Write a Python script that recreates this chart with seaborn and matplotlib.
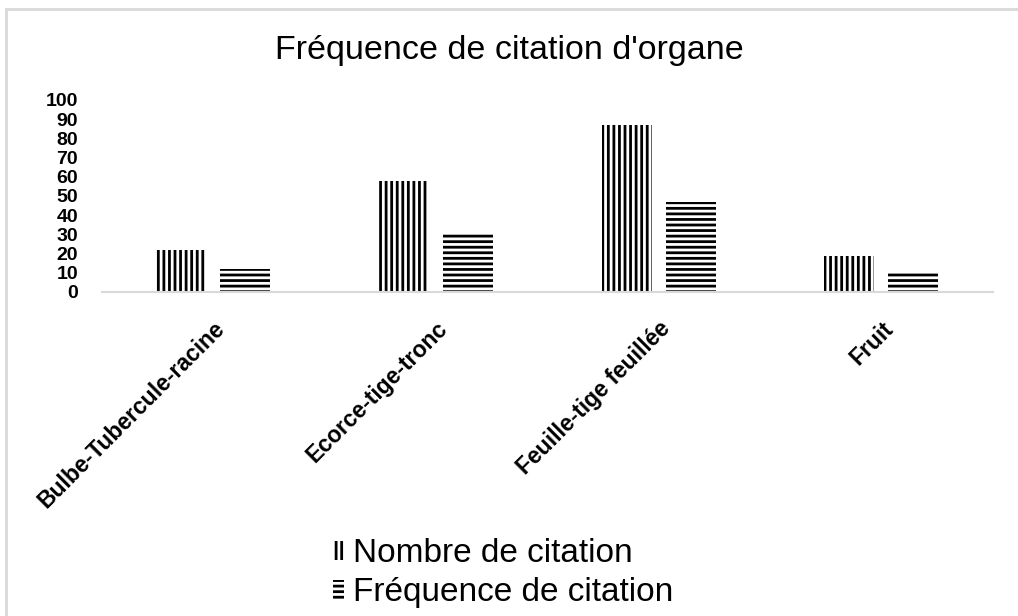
import matplotlib
matplotlib.use("Agg")
import matplotlib.pyplot as plt
import seaborn as sns
import pandas as pd
from matplotlib.patches import Rectangle

organes = ["Bulbe-Tubercule-racine", "Ecorce-tige-tronc", "Feuille-tige feuillée", "Fruit"]
nombre = [22, 58, 87, 19]
frequence = [11.8, 31.2, 46.8, 10.2]
series = ["Nombre de citation", "Fréquence de citation"]
y_ticks = list(range(0, 101, 10))

df = pd.DataFrame({
    "organe": organes * 2,
    "valeur": nombre + frequence,
    "serie": [series[0]] * len(organes) + [series[1]] * len(organes),
})

sns.set_style("white")
plt.rcParams["font.family"] = ["Liberation Sans", "DejaVu Sans"]
plt.rcParams["text.color"] = "black"
plt.rcParams["xtick.color"] = "black"
plt.rcParams["ytick.color"] = "black"
plt.rcParams["hatch.linewidth"] = 2.0

fig = plt.figure(figsize=(10.18, 6.16), dpi=100)
ax = fig.add_axes([0.1, 1 - 292 / 616, (993 - 102) / 1018, (292 - 100) / 616])

sns.barplot(data=df, x="organe", y="valeur", hue="serie", order=organes,
            hue_order=series, palette=["white", "white"], width=0.575, gap=0.22,
            edgecolor="black", linewidth=0, ax=ax, legend=False)

hatches = ["|||", "---"]
for cont, h in zip(ax.containers, hatches):
    for bar in cont:
        bar.set_hatch(h)
        bar.set_edgecolor("black")
        bar.set_linewidth(0)

ax.set_ylim(0, 100)
ax.set_xlim(-0.5, len(organes) - 0.5)
ax.set_yticks(y_ticks)
ax.set_yticklabels([str(t) for t in y_ticks], fontsize=14, fontweight="bold")
ax.tick_params(axis="y", length=0, pad=17)
ax.tick_params(axis="x", length=0, pad=18)
ax.set_xticks(range(len(organes)))
ax.set_xticklabels(organes, rotation=45, ha="right", rotation_mode="anchor",
                   fontsize=16.5, fontweight="bold")
ax.set_xlabel("")
ax.set_ylabel("")
for s in ["left", "right", "top"]:
    ax.spines[s].set_visible(False)
ax.spines["bottom"].set_color("#d9d9d9")
ax.spines["bottom"].set_linewidth(1.5)

fig.text(0.5, 1 - 50 / 616, "Fréquence de citation d'organe", ha="center", va="center",
         fontsize=24.5)

handles = [Rectangle((0, 0), 1, 1, facecolor="white", edgecolor="black", linewidth=0,
                     hatch=h) for h in hatches]
fig.legend(handles, series, loc="center", bbox_to_anchor=(0.494, 1 - 573 / 616),
           frameon=False, fontsize=24, handlelength=0.35, handleheight=0.5,
           handletextpad=0.25, labelspacing=0.25)

fig.add_artist(Rectangle((6 / 1018, -0.1), 1.2, 1 - 9 / 616 + 0.1, transform=fig.transFigure,
                         fill=False, edgecolor="#d9d9d9", linewidth=2))

fig.savefig("out.png", dpi=100)
